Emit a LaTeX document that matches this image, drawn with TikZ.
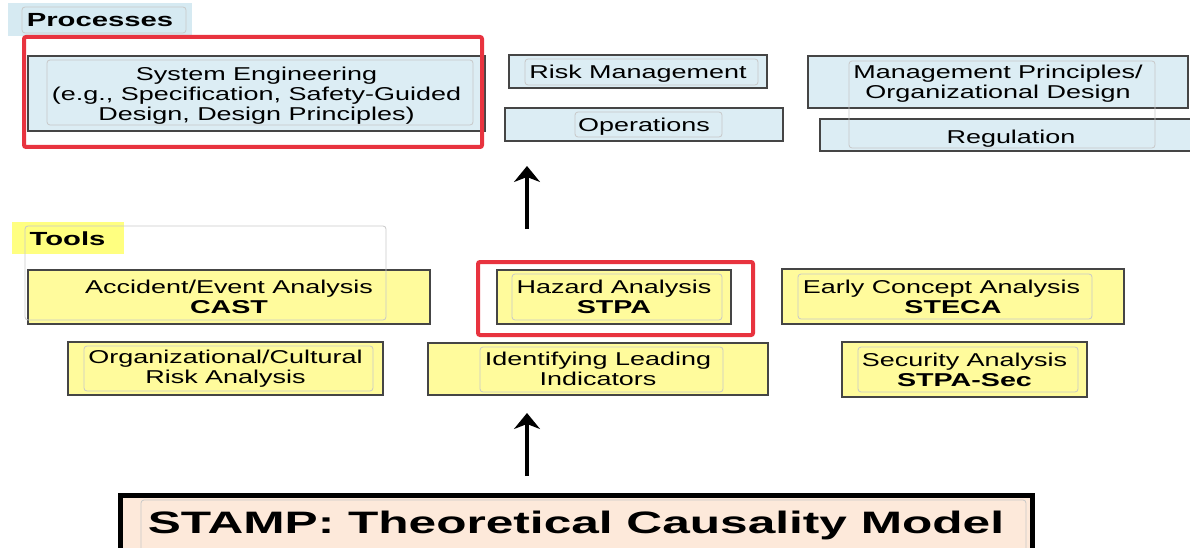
\documentclass[tikz,border=0pt]{standalone}
\usepackage{fontspec}
\setmainfont{Liberation Sans}[FakeStretch=1.45]
\newfontfamily\bfam{Liberation Sans Bold}[FakeStretch=1.54]
\newfontfamily\stampfont{Liberation Sans Bold}[FakeStretch=1.6]
\usetikzlibrary{arrows.meta}
\definecolor{boxblue}{HTML}{DCEDF4}
\definecolor{boxyellow}{HTML}{FFFB9C}
\definecolor{hlyellow}{HTML}{FFFF80}
\definecolor{hlblue}{HTML}{D6EAF2}
\definecolor{redframe}{HTML}{E8333F}
\definecolor{stampfill}{HTML}{FDE9DA}
\definecolor{edgegray}{HTML}{454545}
\definecolor{faint}{HTML}{C8C8C8}
\newcommand\lowtwo{\rule{0pt}{17.6pt}}
\newcommand\lowfour{\rule{0pt}{21.6pt}}
\tikzset{
  body/.style={font=\fontsize{18.6}{20}\selectfont, align=center, inner sep=0pt, text=black},
  bluebox/.style={body, draw=edgegray, line width=2pt, fill=boxblue},
  yellowbox/.style={body, draw=edgegray, line width=2pt, fill=boxyellow},
  stampbox/.style={draw=black, line width=5pt, fill=stampfill, inner sep=0pt,
    font=\stampfont\fontsize{31}{34}\selectfont},
  innerbox/.style={draw=faint, line width=0.8pt, rounded corners=3pt},
  redbox/.style={draw=redframe, line width=4pt, rounded corners=2pt},
  labeltext/.style={font=\bfam\fontsize{19}{20}\selectfont, inner sep=0pt},
  upflow/.style={line width=3.5pt, -{Stealth[length=16pt,width=26pt,inset=5pt]}}
}
\begin{document}
\begin{tikzpicture}[x=1pt,y=-1pt]
\useasboundingbox (0,0) rectangle (1190,548);
\clip (0,0) rectangle (1190,548);

% Processes label
\fill[hlblue] (8,3) rectangle (192,36);
\draw[innerbox] (22,7) rectangle (186,33);
\node[labeltext] (proc) at (100,20.5) {Processes};

% Process boxes
\node[bluebox, minimum width=457pt, minimum height=75pt] (sys) at (256.5,93.5)
  {\lowtwo System Engineering\\(e.g., Specification, Safety-Guided\\Design, Design Principles)};
\draw[innerbox] (47,60) rectangle (473,125);
\node[bluebox, minimum width=258pt, minimum height=33pt] (risk) at (638,71.5) {\lowtwo Risk Management};
\draw[innerbox] (525,59) rectangle (758,85);
\node[bluebox, minimum width=278pt, minimum height=33pt] (ops) at (644,124.5) {\lowtwo Operations};
\draw[innerbox] (575,112) rectangle (722,137);
\node[bluebox, minimum width=380pt, minimum height=52pt] (mgmt) at (998,82)
  {\lowtwo Management Principles/\\Organizational Design};
\node[bluebox, minimum width=382pt, minimum height=32pt] (reg) at (1011,135) {\lowfour Regulation};
\draw[innerbox] (849,61) rectangle (1155,148);
\draw[redbox] (24,37) rectangle (482,147);

% arrow tools -> processes
\coordinate (a1s) at (527,229);
\coordinate (a1e) at (527,166);
\draw[upflow] (a1s) -- (a1e);

% Tools label
\fill[hlyellow] (12,222) rectangle (124,254);
\node[labeltext] (tools) at (67.5,238.5) {Tools};

% Tool boxes
\node[yellowbox, minimum width=402pt, minimum height=54pt] (cast) at (229,297)
  {Accident/Event Analysis\\{\bfam CAST}};
\draw[innerbox] (25,226) rectangle (386,320);
\node[yellowbox, minimum width=234pt, minimum height=54pt] (haz) at (614,297)
  {Hazard Analysis\\{\bfam STPA}};
\draw[innerbox] (512,274) rectangle (722,320);
\node[yellowbox, minimum width=342pt, minimum height=55pt] (steca) at (953,296.5)
  {Early Concept Analysis\hspace*{23pt}\\{\bfam STECA}};
\draw[innerbox] (798,274) rectangle (1092,319);
\node[yellowbox, minimum width=315pt, minimum height=53pt] (org) at (225.5,368.5)
  {Organizational/Cultural\\Risk Analysis};
\draw[innerbox] (84,346) rectangle (373,391);
\node[yellowbox, minimum width=340pt, minimum height=52pt] (ident) at (598,369)
  {Identifying Leading\\Indicators};
\draw[innerbox] (480,347) rectangle (723,392);
\node[yellowbox, minimum width=245pt, minimum height=55pt] (sec) at (964.5,369.5)
  {Security Analysis\\{\bfam STPA-Sec}};
\draw[innerbox] (858,347) rectangle (1078,392);
\draw[redbox] (478,262) rectangle (753,335);

% arrow STAMP -> tools
\coordinate (a2s) at (527,476);
\coordinate (a2e) at (527,413);
\draw[upflow] (a2s) -- (a2e);

% STAMP box
\node[stampbox, minimum width=912pt, minimum height=60pt] (stamp) at (576,525)
  {STAMP: Theoretical Causality Model};
\draw[innerbox] (141,500) rectangle (1026,552);
\end{tikzpicture}
\end{document}
